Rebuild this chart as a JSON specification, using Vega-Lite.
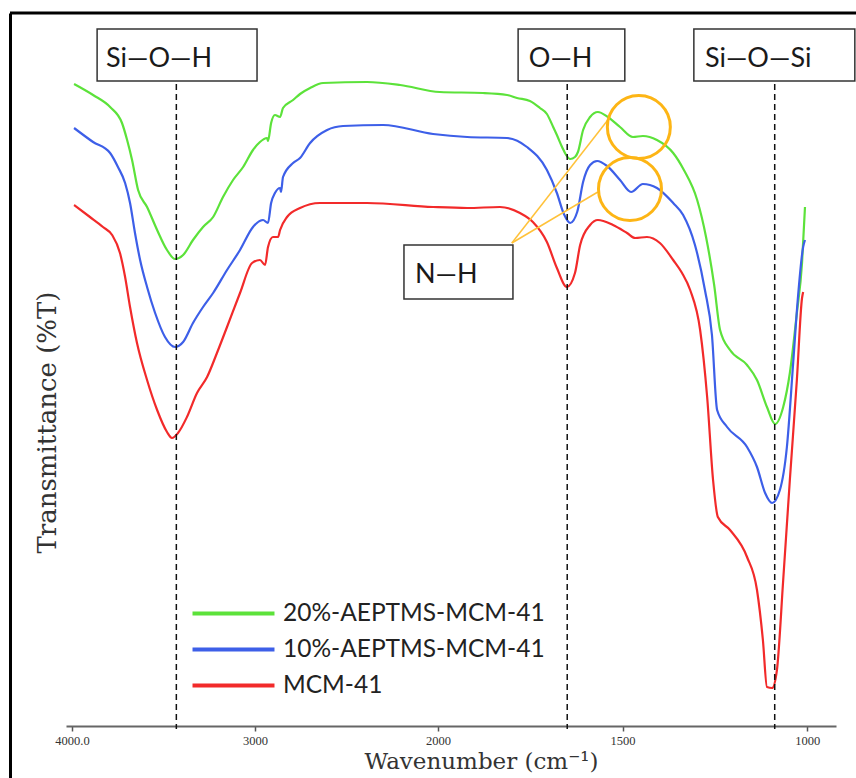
{
  "$schema": "https://vega.github.io/schema/vega-lite/v6.json",
  "autosize": {"type": "none"},
  "padding": {"left": 10, "top": 13, "right": 0, "bottom": 0},
  "width": 846,
  "height": 765,
  "background": "white",
  "config": {"view": {"stroke": null}, "font": "Lato"},
  "datasets": {
    "spectra": [
      {"s":"20%-AEPTMS-MCM-41","wn":3989,"T":64.2},{"s":"20%-AEPTMS-MCM-41","wn":3885,"T":63.1},{"s":"20%-AEPTMS-MCM-41","wn":3792,"T":61.9},{"s":"20%-AEPTMS-MCM-41","wn":3727,"T":60.3},{"s":"20%-AEPTMS-MCM-41","wn":3699,"T":58.6},{"s":"20%-AEPTMS-MCM-41","wn":3672,"T":56.6},{"s":"20%-AEPTMS-MCM-41","wn":3639,"T":53.6},{"s":"20%-AEPTMS-MCM-41","wn":3590,"T":51.9},{"s":"20%-AEPTMS-MCM-41","wn":3535,"T":49.6},{"s":"20%-AEPTMS-MCM-41","wn":3481,"T":47.6},{"s":"20%-AEPTMS-MCM-41","wn":3437,"T":46.7},{"s":"20%-AEPTMS-MCM-41","wn":3393,"T":47.1},{"s":"20%-AEPTMS-MCM-41","wn":3339,"T":48.6},{"s":"20%-AEPTMS-MCM-41","wn":3284,"T":49.9},{"s":"20%-AEPTMS-MCM-41","wn":3229,"T":50.9},{"s":"20%-AEPTMS-MCM-41","wn":3175,"T":52.9},{"s":"20%-AEPTMS-MCM-41","wn":3120,"T":54.6},{"s":"20%-AEPTMS-MCM-41","wn":3065,"T":55.9},{"s":"20%-AEPTMS-MCM-41","wn":3011,"T":57.6},{"s":"20%-AEPTMS-MCM-41","wn":2973,"T":58.4},{"s":"20%-AEPTMS-MCM-41","wn":2934,"T":58.8},{"s":"20%-AEPTMS-MCM-41","wn":2929,"T":58.5},{"s":"20%-AEPTMS-MCM-41","wn":2912,"T":60.3},{"s":"20%-AEPTMS-MCM-41","wn":2891,"T":61.1},{"s":"20%-AEPTMS-MCM-41","wn":2863,"T":60.9},{"s":"20%-AEPTMS-MCM-41","wn":2847,"T":61.8},{"s":"20%-AEPTMS-MCM-41","wn":2792,"T":62.6},{"s":"20%-AEPTMS-MCM-41","wn":2754,"T":63.2},{"s":"20%-AEPTMS-MCM-41","wn":2699,"T":63.8},{"s":"20%-AEPTMS-MCM-41","wn":2628,"T":64.3},{"s":"20%-AEPTMS-MCM-41","wn":2388,"T":64.4},{"s":"20%-AEPTMS-MCM-41","wn":2207,"T":64.1},{"s":"20%-AEPTMS-MCM-41","wn":1995,"T":63.4},{"s":"20%-AEPTMS-MCM-41","wn":1878,"T":63.3},{"s":"20%-AEPTMS-MCM-41","wn":1813,"T":63.1},{"s":"20%-AEPTMS-MCM-41","wn":1786,"T":62.8},{"s":"20%-AEPTMS-MCM-41","wn":1751,"T":62.5},{"s":"20%-AEPTMS-MCM-41","wn":1724,"T":61.8},{"s":"20%-AEPTMS-MCM-41","wn":1705,"T":61.2},{"s":"20%-AEPTMS-MCM-41","wn":1688,"T":59.9},{"s":"20%-AEPTMS-MCM-41","wn":1678,"T":59.1},{"s":"20%-AEPTMS-MCM-41","wn":1664,"T":57.9},{"s":"20%-AEPTMS-MCM-41","wn":1653,"T":57.1},{"s":"20%-AEPTMS-MCM-41","wn":1642,"T":56.7},{"s":"20%-AEPTMS-MCM-41","wn":1629,"T":56.9},{"s":"20%-AEPTMS-MCM-41","wn":1621,"T":57.4},{"s":"20%-AEPTMS-MCM-41","wn":1607,"T":59.6},{"s":"20%-AEPTMS-MCM-41","wn":1588,"T":60.9},{"s":"20%-AEPTMS-MCM-41","wn":1567,"T":61.4},{"s":"20%-AEPTMS-MCM-41","wn":1540,"T":60.9},{"s":"20%-AEPTMS-MCM-41","wn":1507,"T":59.9},{"s":"20%-AEPTMS-MCM-41","wn":1472,"T":58.9},{"s":"20%-AEPTMS-MCM-41","wn":1445,"T":59.0},{"s":"20%-AEPTMS-MCM-41","wn":1407,"T":58.6},{"s":"20%-AEPTMS-MCM-41","wn":1363,"T":57.3},{"s":"20%-AEPTMS-MCM-41","wn":1334,"T":55.6},{"s":"20%-AEPTMS-MCM-41","wn":1298,"T":52.6},{"s":"20%-AEPTMS-MCM-41","wn":1274,"T":48.9},{"s":"20%-AEPTMS-MCM-41","wn":1252,"T":44.1},{"s":"20%-AEPTMS-MCM-41","wn":1236,"T":39.6},{"s":"20%-AEPTMS-MCM-41","wn":1209,"T":37.6},{"s":"20%-AEPTMS-MCM-41","wn":1163,"T":36.1},{"s":"20%-AEPTMS-MCM-41","wn":1136,"T":34.6},{"s":"20%-AEPTMS-MCM-41","wn":1109,"T":31.9},{"s":"20%-AEPTMS-MCM-41","wn":1087,"T":30.2},{"s":"20%-AEPTMS-MCM-41","wn":1065,"T":31.9},{"s":"20%-AEPTMS-MCM-41","wn":1047,"T":35.3},{"s":"20%-AEPTMS-MCM-41","wn":1028,"T":41.3},{"s":"20%-AEPTMS-MCM-41","wn":1014,"T":46.3},{"s":"20%-AEPTMS-MCM-41","wn":1006,"T":51.9},
      {"s":"10%-AEPTMS-MCM-41","wn":3989,"T":59.8},{"s":"10%-AEPTMS-MCM-41","wn":3885,"T":58.4},{"s":"10%-AEPTMS-MCM-41","wn":3792,"T":57.3},{"s":"10%-AEPTMS-MCM-41","wn":3749,"T":55.9},{"s":"10%-AEPTMS-MCM-41","wn":3710,"T":54.3},{"s":"10%-AEPTMS-MCM-41","wn":3683,"T":52.3},{"s":"10%-AEPTMS-MCM-41","wn":3656,"T":49.3},{"s":"10%-AEPTMS-MCM-41","wn":3628,"T":46.6},{"s":"10%-AEPTMS-MCM-41","wn":3590,"T":43.9},{"s":"10%-AEPTMS-MCM-41","wn":3546,"T":41.3},{"s":"10%-AEPTMS-MCM-41","wn":3492,"T":38.9},{"s":"10%-AEPTMS-MCM-41","wn":3437,"T":37.9},{"s":"10%-AEPTMS-MCM-41","wn":3393,"T":38.4},{"s":"10%-AEPTMS-MCM-41","wn":3339,"T":40.3},{"s":"10%-AEPTMS-MCM-41","wn":3284,"T":41.9},{"s":"10%-AEPTMS-MCM-41","wn":3229,"T":43.3},{"s":"10%-AEPTMS-MCM-41","wn":3153,"T":45.6},{"s":"10%-AEPTMS-MCM-41","wn":3082,"T":47.6},{"s":"10%-AEPTMS-MCM-41","wn":3011,"T":49.9},{"s":"10%-AEPTMS-MCM-41","wn":2956,"T":50.6},{"s":"10%-AEPTMS-MCM-41","wn":2929,"T":50.3},{"s":"10%-AEPTMS-MCM-41","wn":2912,"T":52.3},{"s":"10%-AEPTMS-MCM-41","wn":2891,"T":53.3},{"s":"10%-AEPTMS-MCM-41","wn":2863,"T":53.8},{"s":"10%-AEPTMS-MCM-41","wn":2858,"T":53.4},{"s":"10%-AEPTMS-MCM-41","wn":2847,"T":54.9},{"s":"10%-AEPTMS-MCM-41","wn":2792,"T":56.3},{"s":"10%-AEPTMS-MCM-41","wn":2754,"T":56.8},{"s":"10%-AEPTMS-MCM-41","wn":2699,"T":58.3},{"s":"10%-AEPTMS-MCM-41","wn":2606,"T":59.6},{"s":"10%-AEPTMS-MCM-41","wn":2519,"T":60.0},{"s":"10%-AEPTMS-MCM-41","wn":2300,"T":60.1},{"s":"10%-AEPTMS-MCM-41","wn":2027,"T":59.2},{"s":"10%-AEPTMS-MCM-41","wn":1921,"T":58.9},{"s":"10%-AEPTMS-MCM-41","wn":1813,"T":58.8},{"s":"10%-AEPTMS-MCM-41","wn":1759,"T":57.9},{"s":"10%-AEPTMS-MCM-41","wn":1705,"T":55.6},{"s":"10%-AEPTMS-MCM-41","wn":1678,"T":53.3},{"s":"10%-AEPTMS-MCM-41","wn":1659,"T":51.2},{"s":"10%-AEPTMS-MCM-41","wn":1642,"T":50.3},{"s":"10%-AEPTMS-MCM-41","wn":1623,"T":51.4},{"s":"10%-AEPTMS-MCM-41","wn":1607,"T":54.4},{"s":"10%-AEPTMS-MCM-41","wn":1588,"T":56.1},{"s":"10%-AEPTMS-MCM-41","wn":1569,"T":56.5},{"s":"10%-AEPTMS-MCM-41","wn":1542,"T":56.0},{"s":"10%-AEPTMS-MCM-41","wn":1507,"T":54.6},{"s":"10%-AEPTMS-MCM-41","wn":1477,"T":53.4},{"s":"10%-AEPTMS-MCM-41","wn":1445,"T":54.2},{"s":"10%-AEPTMS-MCM-41","wn":1407,"T":53.8},{"s":"10%-AEPTMS-MCM-41","wn":1363,"T":52.3},{"s":"10%-AEPTMS-MCM-41","wn":1336,"T":51.1},{"s":"10%-AEPTMS-MCM-41","wn":1304,"T":48.1},{"s":"10%-AEPTMS-MCM-41","wn":1277,"T":43.6},{"s":"10%-AEPTMS-MCM-41","wn":1258,"T":39.1},{"s":"10%-AEPTMS-MCM-41","wn":1244,"T":31.6},{"s":"10%-AEPTMS-MCM-41","wn":1217,"T":29.9},{"s":"10%-AEPTMS-MCM-41","wn":1163,"T":27.9},{"s":"10%-AEPTMS-MCM-41","wn":1136,"T":25.9},{"s":"10%-AEPTMS-MCM-41","wn":1114,"T":23.3},{"s":"10%-AEPTMS-MCM-41","wn":1095,"T":22.3},{"s":"10%-AEPTMS-MCM-41","wn":1074,"T":23.6},{"s":"10%-AEPTMS-MCM-41","wn":1055,"T":27.9},{"s":"10%-AEPTMS-MCM-41","wn":1038,"T":36.3},{"s":"10%-AEPTMS-MCM-41","wn":1025,"T":42.9},{"s":"10%-AEPTMS-MCM-41","wn":1011,"T":47.9},{"s":"10%-AEPTMS-MCM-41","wn":1006,"T":48.6},
      {"s":"MCM-41","wn":3989,"T":52.1},{"s":"MCM-41","wn":3902,"T":50.9},{"s":"MCM-41","wn":3831,"T":49.9},{"s":"MCM-41","wn":3781,"T":49.1},{"s":"MCM-41","wn":3738,"T":47.3},{"s":"MCM-41","wn":3710,"T":44.9},{"s":"MCM-41","wn":3683,"T":41.9},{"s":"MCM-41","wn":3645,"T":38.3},{"s":"MCM-41","wn":3590,"T":34.6},{"s":"MCM-41","wn":3535,"T":31.6},{"s":"MCM-41","wn":3481,"T":29.4},{"s":"MCM-41","wn":3454,"T":28.8},{"s":"MCM-41","wn":3421,"T":29.3},{"s":"MCM-41","wn":3372,"T":30.9},{"s":"MCM-41","wn":3317,"T":33.3},{"s":"MCM-41","wn":3262,"T":34.9},{"s":"MCM-41","wn":3208,"T":37.3},{"s":"MCM-41","wn":3153,"T":39.9},{"s":"MCM-41","wn":3082,"T":43.3},{"s":"MCM-41","wn":3016,"T":46.3},{"s":"MCM-41","wn":2973,"T":46.6},{"s":"MCM-41","wn":2945,"T":46.1},{"s":"MCM-41","wn":2929,"T":47.9},{"s":"MCM-41","wn":2902,"T":48.9},{"s":"MCM-41","wn":2874,"T":48.9},{"s":"MCM-41","wn":2863,"T":49.6},{"s":"MCM-41","wn":2825,"T":50.9},{"s":"MCM-41","wn":2754,"T":51.8},{"s":"MCM-41","wn":2645,"T":52.3},{"s":"MCM-41","wn":2388,"T":52.3},{"s":"MCM-41","wn":2027,"T":51.9},{"s":"MCM-41","wn":1921,"T":51.8},{"s":"MCM-41","wn":1832,"T":51.9},{"s":"MCM-41","wn":1778,"T":51.3},{"s":"MCM-41","wn":1743,"T":50.4},{"s":"MCM-41","wn":1705,"T":48.4},{"s":"MCM-41","wn":1678,"T":45.8},{"s":"MCM-41","wn":1651,"T":43.9},{"s":"MCM-41","wn":1629,"T":45.3},{"s":"MCM-41","wn":1615,"T":48.1},{"s":"MCM-41","wn":1588,"T":50.1},{"s":"MCM-41","wn":1567,"T":50.6},{"s":"MCM-41","wn":1526,"T":50.1},{"s":"MCM-41","wn":1488,"T":49.3},{"s":"MCM-41","wn":1466,"T":48.8},{"s":"MCM-41","wn":1434,"T":48.9},{"s":"MCM-41","wn":1399,"T":48.3},{"s":"MCM-41","wn":1363,"T":46.6},{"s":"MCM-41","wn":1339,"T":45.3},{"s":"MCM-41","wn":1317,"T":43.6},{"s":"MCM-41","wn":1290,"T":39.6},{"s":"MCM-41","wn":1271,"T":32.9},{"s":"MCM-41","wn":1255,"T":24.6},{"s":"MCM-41","wn":1242,"T":20.9},{"s":"MCM-41","wn":1209,"T":19.6},{"s":"MCM-41","wn":1163,"T":16.9},{"s":"MCM-41","wn":1136,"T":13.6},{"s":"MCM-41","wn":1120,"T":8.6},{"s":"MCM-41","wn":1109,"T":3.9},{"s":"MCM-41","wn":1095,"T":3.8},{"s":"MCM-41","wn":1082,"T":5.6},{"s":"MCM-41","wn":1065,"T":14.6},{"s":"MCM-41","wn":1047,"T":24.6},{"s":"MCM-41","wn":1028,"T":34.6},{"s":"MCM-41","wn":1014,"T":42.8},{"s":"MCM-41","wn":1011,"T":43.4}
    ],
    "peaks": [
      {"wn": 3430, "T": 64.2, "T2": -0.3},
      {"wn": 1650, "T": 64.2, "T2": -0.3},
      {"wn": 1088, "T": 64.2, "T2": -0.3}
    ],
    "boxes": [
      {"label": "Si—O—H", "wn": 3863, "wn2": 2989, "T": 69.7, "T2": 64.5},
      {"label": "O—H", "wn": 1783, "wn2": 1494, "T": 69.7, "T2": 64.5},
      {"label": "Si—O—Si", "wn": 1307, "wn2": 871, "T": 69.7, "T2": 64.5},
      {"label": "N—H", "wn": 2186, "wn2": 1797, "T": 48.1, "T2": 42.7}
    ],
    "texts": [
      {"label": "Si—O—H", "wn": 3814, "T": 65.9},
      {"label": "O—H", "wn": 1754, "T": 65.9},
      {"label": "Si—O—Si", "wn": 1277, "T": 65.9},
      {"label": "N—H", "wn": 2126, "T": 44.3}
    ],
    "pointers": [
      {"wn": 1800, "T": 48.3, "wn2": 1540, "T2": 60.6},
      {"wn": 1800, "T": 48.3, "wn2": 1567, "T2": 53.4}
    ],
    "circles": [
      {"wn": 1456, "T": 59.9},
      {"wn": 1480, "T": 53.7}
    ],
    "frame": [{"T": 71.3}]
  },
  "layer": [
    {
      "data": {"name": "spectra"},
      "mark": {"type": "line", "strokeWidth": 2.2, "interpolate": "monotone"},
      "encoding": {
        "x": {
          "field": "wn", "type": "quantitative",
          "scale": {"domain": [4033, 2000, 922], "range": [56, 428, 826], "nice": false, "zero": false},
          "axis": {
            "title": "Wavenumber (cm⁻¹)",
            "values": [4000, 3000, 2000, 1500, 1000],
            "labelExpr": "datum.value == 4000 ? '4000.0' : datum.value",
            "offset": -52,
            "grid": false,
            "domainColor": "#666666", "domainWidth": 2,
            "tickColor": "#555555", "tickWidth": 1.5, "tickSize": 5,
            "labelFont": "Liberation Serif", "labelFontSize": 12.5, "labelColor": "#333333", "labelPadding": 3,
            "titleFont": "DejaVu Serif", "titleFontSize": 23, "titleFontWeight": "normal", "titleColor": "#333333",
            "titlePadding": 4, "titleX": 471, "titleAlign": "center"
          }
        },
        "y": {
          "field": "T", "type": "quantitative",
          "scale": {"domain": [-5.2, 71.3], "nice": false, "zero": false},
          "axis": {
            "title": "Transmittance (%T)",
            "domain": true, "domainColor": "#000000", "domainWidth": 3,
            "ticks": false, "labels": false, "grid": false,
            "titleFont": "DejaVu Serif", "titleFontSize": 26, "titleFontWeight": "normal", "titleColor": "#333333",
            "titleX": 45, "titleY": 409, "titleAngle": 270, "titleBaseline": "alphabetic", "titleAlign": "center"
          }
        },
        "color": {
          "field": "s", "type": "nominal",
          "scale": {"domain": ["20%-AEPTMS-MCM-41", "10%-AEPTMS-MCM-41", "MCM-41"], "range": ["#5CE23A", "#3D5FE8", "#F22A2A"]},
          "legend": {
            "orient": "none", "legendX": 211, "legendY": 588, "title": null, "padding": 0,
            "symbolType": "M-4,0H4", "symbolSize": 420, "symbolStrokeWidth": 4,
            "labelFont": "Lato", "labelFontSize": 24.5, "labelColor": "#222222", "labelOffset": 37, "labelLimit": 0,
            "rowPadding": 11
          }
        },
        "order": {"field": "wn", "sort": "descending"}
      }
    },
    {
      "data": {"name": "frame"},
      "mark": {"type": "rule", "color": "#000000", "strokeWidth": 3},
      "encoding": {"y": {"field": "T", "type": "quantitative"}}
    },
    {
      "data": {"name": "peaks"},
      "mark": {"type": "rule", "color": "#111111", "strokeWidth": 1.5, "strokeDash": [6, 4]},
      "encoding": {
        "x": {"field": "wn", "type": "quantitative"},
        "y": {"field": "T", "type": "quantitative"},
        "y2": {"field": "T2"}
      }
    },
    {
      "data": {"name": "pointers"},
      "mark": {"type": "rule", "color": "#FFC23A", "strokeWidth": 1.5},
      "encoding": {
        "x": {"field": "wn", "type": "quantitative"},
        "x2": {"field": "wn2"},
        "y": {"field": "T", "type": "quantitative"},
        "y2": {"field": "T2"}
      }
    },
    {
      "data": {"name": "circles"},
      "mark": {"type": "point", "shape": "circle", "filled": false, "size": 3969, "strokeWidth": 3, "color": "#FDB515", "opacity": 1},
      "encoding": {
        "x": {"field": "wn", "type": "quantitative"},
        "y": {"field": "T", "type": "quantitative"}
      }
    },
    {
      "data": {"name": "boxes"},
      "mark": {"type": "rect", "fill": "#ffffff", "stroke": "#333333", "strokeWidth": 1.5},
      "encoding": {
        "x": {"field": "wn", "type": "quantitative"},
        "x2": {"field": "wn2"},
        "y": {"field": "T", "type": "quantitative"},
        "y2": {"field": "T2"}
      }
    },
    {
      "data": {"name": "texts"},
      "mark": {"type": "text", "font": "Lato", "fontSize": 27, "align": "left", "baseline": "alphabetic", "color": "#1a1a1a"},
      "encoding": {
        "x": {"field": "wn", "type": "quantitative"},
        "y": {"field": "T", "type": "quantitative"},
        "text": {"field": "label"}
      }
    }
  ]
}
